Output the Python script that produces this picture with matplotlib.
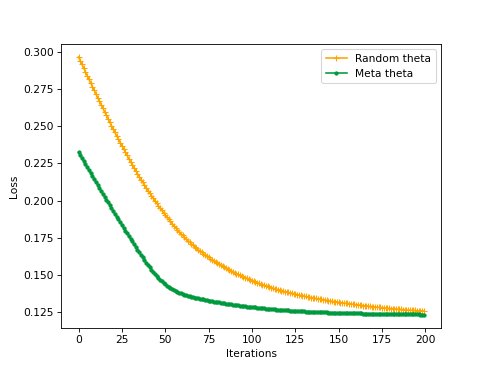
import matplotlib
matplotlib.use("Agg")
import matplotlib.pyplot as plt
import numpy as np

# loss values, one per iteration (0..199)
random_theta = [
    0.2965, 0.2940, 0.2915, 0.2890, 0.2865, 0.2840, 0.2815, 0.2791, 0.2766, 0.2742,
    0.2717, 0.2693, 0.2669, 0.2645, 0.2621, 0.2597, 0.2574, 0.2550, 0.2527, 0.2503,
    0.2480, 0.2458, 0.2435, 0.2413, 0.2390, 0.2368, 0.2347, 0.2325, 0.2304, 0.2282,
    0.2261, 0.2241, 0.2221, 0.2201, 0.2181, 0.2161, 0.2142, 0.2124, 0.2105, 0.2086,
    0.2068, 0.2051, 0.2034, 0.2016, 0.1999, 0.1982, 0.1966, 0.1950, 0.1935, 0.1919,
    0.1903, 0.1889, 0.1874, 0.1860, 0.1845, 0.1831, 0.1818, 0.1805, 0.1792, 0.1779,
    0.1766, 0.1755, 0.1744, 0.1732, 0.1721, 0.1710, 0.1700, 0.1690, 0.1681, 0.1671,
    0.1661, 0.1652, 0.1644, 0.1635, 0.1627, 0.1618, 0.1610, 0.1603, 0.1595, 0.1588,
    0.1580, 0.1573, 0.1566, 0.1560, 0.1553, 0.1546, 0.1540, 0.1534, 0.1527, 0.1521,
    0.1515, 0.1509, 0.1504, 0.1498, 0.1493, 0.1487, 0.1482, 0.1477, 0.1472, 0.1467,
    0.1462, 0.1458, 0.1453, 0.1449, 0.1444, 0.1440, 0.1436, 0.1432, 0.1428, 0.1424,
    0.1420, 0.1416, 0.1413, 0.1409, 0.1406, 0.1402, 0.1399, 0.1396, 0.1392, 0.1389,
    0.1386, 0.1383, 0.1380, 0.1378, 0.1375, 0.1372, 0.1369, 0.1367, 0.1364, 0.1362,
    0.1359, 0.1357, 0.1354, 0.1352, 0.1349, 0.1347, 0.1345, 0.1343, 0.1340, 0.1338,
    0.1336, 0.1334, 0.1332, 0.1330, 0.1328, 0.1326, 0.1324, 0.1322, 0.1321, 0.1319,
    0.1317, 0.1315, 0.1314, 0.1312, 0.1311, 0.1309, 0.1307, 0.1306, 0.1304, 0.1303,
    0.1301, 0.1300, 0.1298, 0.1297, 0.1295, 0.1294, 0.1293, 0.1291, 0.1290, 0.1288,
    0.1287, 0.1286, 0.1284, 0.1283, 0.1282, 0.1281, 0.1280, 0.1278, 0.1277, 0.1276,
    0.1275, 0.1274, 0.1273, 0.1272, 0.1271, 0.1270, 0.1269, 0.1268, 0.1267, 0.1266,
    0.1265, 0.1264, 0.1263, 0.1263, 0.1262, 0.1261, 0.1260, 0.1260, 0.1259, 0.1258,
]

meta_theta = [
    0.2325, 0.2305, 0.2285, 0.2265, 0.2245, 0.2225, 0.2205, 0.2185, 0.2165, 0.2145,
    0.2125, 0.2105, 0.2085, 0.2066, 0.2046, 0.2026, 0.2007, 0.1988, 0.1968, 0.1949,
    0.1930, 0.1911, 0.1892, 0.1874, 0.1855, 0.1836, 0.1818, 0.1799, 0.1781, 0.1762,
    0.1744, 0.1726, 0.1707, 0.1689, 0.1671, 0.1653, 0.1636, 0.1618, 0.1601, 0.1584,
    0.1567, 0.1551, 0.1536, 0.1521, 0.1507, 0.1494, 0.1481, 0.1469, 0.1458, 0.1447,
    0.1437, 0.1428, 0.1420, 0.1412, 0.1405, 0.1398, 0.1392, 0.1387, 0.1382, 0.1377,
    0.1372, 0.1368, 0.1365, 0.1361, 0.1358, 0.1354, 0.1351, 0.1348, 0.1346, 0.1343,
    0.1340, 0.1338, 0.1336, 0.1333, 0.1331, 0.1329, 0.1327, 0.1325, 0.1322, 0.1320,
    0.1318, 0.1316, 0.1314, 0.1312, 0.1310, 0.1308, 0.1306, 0.1304, 0.1303, 0.1301,
    0.1299, 0.1297, 0.1296, 0.1294, 0.1293, 0.1291, 0.1290, 0.1288, 0.1287, 0.1285,
    0.1284, 0.1283, 0.1282, 0.1280, 0.1279, 0.1278, 0.1277, 0.1276, 0.1274, 0.1273,
    0.1272, 0.1271, 0.1270, 0.1269, 0.1268, 0.1267, 0.1266, 0.1265, 0.1265, 0.1264,
    0.1263, 0.1262, 0.1261, 0.1261, 0.1260, 0.1259, 0.1258, 0.1258, 0.1257, 0.1257,
    0.1256, 0.1255, 0.1255, 0.1254, 0.1254, 0.1253, 0.1252, 0.1252, 0.1251, 0.1251,
    0.1250, 0.1250, 0.1249, 0.1249, 0.1248, 0.1248, 0.1248, 0.1247, 0.1247, 0.1246,
    0.1246, 0.1246, 0.1245, 0.1245, 0.1244, 0.1244, 0.1244, 0.1244, 0.1243, 0.1243,
    0.1243, 0.1242, 0.1242, 0.1242, 0.1241, 0.1241, 0.1241, 0.1241, 0.1240, 0.1240,
    0.1240, 0.1240, 0.1239, 0.1239, 0.1239, 0.1239, 0.1239, 0.1238, 0.1238, 0.1238,
    0.1238, 0.1238, 0.1237, 0.1237, 0.1237, 0.1237, 0.1237, 0.1236, 0.1236, 0.1236,
    0.1236, 0.1236, 0.1235, 0.1235, 0.1235, 0.1235, 0.1235, 0.1234, 0.1234, 0.1234,
]

iterations = np.arange(len(random_theta))

fig, ax = plt.subplots(figsize=(490 / 76.6, 368 / 76.6), dpi=76.6)
ax.plot(iterations, random_theta, marker="+", markeredgewidth=1.0,
        color="orange", label="Random theta")
ax.plot(iterations, meta_theta, marker=".", color="#00993d", label="Meta theta")
ax.set_xlabel("Iterations")
ax.set_ylabel("Loss")
ax.legend()
fig.savefig("out.png", dpi=76.6)
